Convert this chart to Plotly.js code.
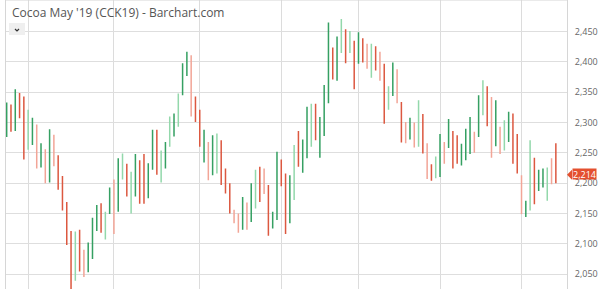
<!DOCTYPE html>
<html>
<head>
<meta charset="utf-8">
<script src="https://cdn.plot.ly/plotly-3.0.1.min.js"></script>
<style>html,body{margin:0;padding:0;background:#fff;}#chart{width:600px;height:289px;}</style>
</head>
<body>
<div id="chart"></div>
<script>
// ---- data (daily OHLC) ----
const priorClose = 2290;
const opens = [2285,2318,2303,2340,2335,2305,2268,2230,2230,2205,2212,2235,2240,2195,2165,2115,2110,2105,2048,2058,
  2080,2130,2160,2145,2152,2125,2160,2245,2225,2210,2185,2232,2240,2182,2230,2280,2245,2230,2305,2285,
  2335,2350,2390,2318,2340,2315,2245,2215,2220,2275,2265,2215,2195,2138,2125,2130,2128,2142,2215,2220,
  2186,2190,2128,2145,2235,2205,2140,2255,2280,2222,2245,2328,2325,2250,2285,2340,2415,2385,2460,2445,
  2440,2430,2400,2435,2395,2425,2420,2375,2390,2350,2350,2340,2330,2268,2275,2265,2320,2305,2215,2228,
  2235,2220,2240,2265,2280,2275,2232,2245,2255,2255,2280,2355,2355,2250,2270,2255,2298,2275,2308,2265,
  2150,2150,2248,2230,2192,2198,2224,2205,2230];
const highs = [2333,2330,2355,2349,2343,2321,2308,2297,2266,2256,2289,2280,2246,2212,2169,2121,2120,2123,2090,2102,
  2143,2164,2167,2153,2193,2206,2241,2249,2232,2219,2248,2238,2248,2233,2288,2288,2254,2268,2310,2315,
  2348,2398,2417,2411,2343,2321,2288,2268,2279,2282,2271,2224,2200,2156,2150,2177,2168,2200,2222,2227,
  2224,2197,2153,2252,2239,2216,2213,2263,2286,2272,2326,2331,2331,2309,2362,2465,2424,2442,2471,2454,
  2451,2435,2449,2439,2430,2430,2426,2417,2397,2360,2399,2388,2334,2301,2308,2300,2337,2314,2266,2231,
  2244,2281,2268,2306,2286,2279,2265,2290,2309,2285,2345,2370,2360,2342,2337,2293,2304,2318,2315,2281,
  2213,2171,2271,2242,2222,2224,2226,2241,2266];
const lows = [2276,2285,2286,2307,2239,2255,2263,2224,2226,2200,2201,2228,2189,2155,2098,2025,2039,2054,2045,2053,
  2075,2121,2118,2107,2149,2116,2153,2206,2178,2150,2178,2166,2166,2175,2222,2214,2201,2224,2260,2277,
  2293,2345,2377,2310,2301,2260,2234,2205,2213,2216,2197,2183,2150,2134,2118,2123,2123,2136,2158,2169,
  2182,2113,2125,2139,2195,2116,2134,2172,2227,2217,2241,2260,2271,2242,2278,2332,2371,2369,2415,2398,
  2415,2355,2397,2399,2389,2374,2386,2369,2298,2321,2344,2332,2267,2266,2272,2259,2260,2249,2207,2204,
  2208,2210,2232,2258,2224,2232,2229,2238,2248,2250,2276,2312,2294,2242,2261,2248,2254,2268,2232,2216,
  2149,2144,2155,2165,2187,2193,2171,2198,2200];
const closes = [2316,2302,2338,2330,2252,2270,2295,2250,2258,2225,2271,2255,2195,2158,2108,2042,2075,2062,2055,2095,
  2135,2155,2125,2130,2185,2182,2230,2235,2190,2195,2240,2195,2180,2225,2270,2225,2230,2262,2292,2310,
  2318,2392,2410,2397,2320,2270,2278,2250,2262,2268,2205,2195,2152,2148,2140,2170,2160,2192,2200,2195,
  2192,2118,2148,2240,2205,2125,2200,2235,2232,2265,2318,2320,2290,2300,2340,2455,2380,2430,2440,2415,
  2425,2390,2440,2415,2410,2412,2395,2390,2310,2330,2390,2365,2275,2272,2295,2285,2290,2265,2240,2210,
  2215,2270,2260,2295,2252,2240,2258,2275,2290,2275,2335,2340,2315,2305,2325,2285,2288,2305,2245,2222,
  2160,2165,2195,2182,2200,2208,2220,2217,2214];
const monthStarts = [6, 26, 46, 65, 83, 102, 121];   // bar index of each month's first session
const priceTicks = [2050, 2100, 2150, 2200, 2250, 2300, 2350, 2400, 2450];
const titleText = "Cocoa May '19 (CCK19) - Barchart.com";

// ---- split bars by close vs previous close ----
const barIdx = closes.map((_, i) => i + 1);
const prev = closes.map((c, i) => i === 0 ? priorClose : closes[i - 1]);
function pick(arr, cond) { return arr.filter((_, i) => cond(i)); }
const isUp = i => closes[i] > prev[i];
const isDown = i => !isUp(i);

const GREEN = '#35a062', GREEN_L = '#93d8ab', RED = '#dc5840', RED_L = '#f2a597';

const common = { type: 'ohlc', xaxis: 'x', yaxis: 'y', hoverinfo: 'skip', tickwidth: 0.18, showlegend: false };
const upTrace = Object.assign({}, common, {
  x: pick(barIdx, isUp), open: pick(opens, isUp), high: pick(highs, isUp), low: pick(lows, isUp), close: pick(closes, isUp),
  increasing: { line: { color: GREEN, width: 1.5 } }, decreasing: { line: { color: GREEN_L, width: 1.5 } }
});
const downTrace = Object.assign({}, common, {
  x: pick(barIdx, isDown), open: pick(opens, isDown), high: pick(highs, isDown), low: pick(lows, isDown), close: pick(closes, isDown),
  increasing: { line: { color: RED_L, width: 1.5 } }, decreasing: { line: { color: RED, width: 1.5 } }
});

const lastClose = closes[closes.length - 1];
const fmt = v => v.toLocaleString('en-US');

const layout = {
  width: 600, height: 289,
  margin: { l: 6, r: 33, t: 0, b: 0 },
  paper_bgcolor: '#fff', plot_bgcolor: '#fff',
  font: { family: 'Open Sans, sans-serif', color: '#666' },
  title: { text: titleText, x: 12 / 600, xanchor: 'left', xref: 'container', y: 1 - 13 / 289, yanchor: 'middle', yref: 'container',
           font: { family: 'Open Sans, sans-serif', size: 12, color: '#555' } },
  xaxis: { range: [0.84, 131.6], tickvals: monthStarts, showticklabels: false, ticks: '', showgrid: true, gridcolor: '#dcdcdc',
           gridwidth: 1, zeroline: false, showline: false, rangeslider: { visible: false }, fixedrange: true },
  yaxis: { side: 'right', range: [2025.3, 2502.3], tickvals: priceTicks, ticktext: priceTicks.map(fmt), showgrid: true,
           gridcolor: '#dedede', zeroline: false, showline: true, mirror: true, linecolor: '#d6d6d6', ticks: '',
           ticklabelstandoff: 5, tickfont: { size: 9, color: '#666' }, fixedrange: true },
  shapes: [
    { type: 'line', xref: 'paper', yref: 'paper', x0: 0, x1: 1, y0: 1, y1: 1, line: { color: '#d6d6d6', width: 1 } },
    { type: 'rect', xref: 'paper', yref: 'paper', x0: 3 / 561, x1: 19 / 561, y0: 1 - 35 / 289, y1: 1 - 23 / 289,
      fillcolor: '#efefef', line: { width: 0 } },
    { type: 'path', xref: 'paper', yref: 'paper', xsizemode: 'pixel', ysizemode: 'pixel', xanchor: 11 / 561, yanchor: 1 - 30 / 289,
      path: 'M-2,1 L0,-1 L2,1', line: { color: '#333', width: 1.2 } },
    { type: 'path', xref: 'paper', yref: 'y', xsizemode: 'pixel', ysizemode: 'pixel', xanchor: 1, yanchor: lastClose,
      path: 'M0,0 L5,5 L5,-5 Z', fillcolor: '#e4502f', line: { width: 0 } }
  ],
  annotations: [
    { xref: 'paper', yref: 'y', x: 1, y: lastClose, xanchor: 'left', yanchor: 'middle', xshift: 5, yshift: 1, showarrow: false,
      text: fmt(lastClose), bgcolor: '#e4502f', borderpad: 0, width: 23, height: 10,
      font: { size: 9, color: '#fff', family: 'Open Sans, sans-serif' } }
  ]
};

Plotly.newPlot('chart', [upTrace, downTrace], layout, { displayModeBar: false, staticPlot: true });
</script>
</body>
</html>
